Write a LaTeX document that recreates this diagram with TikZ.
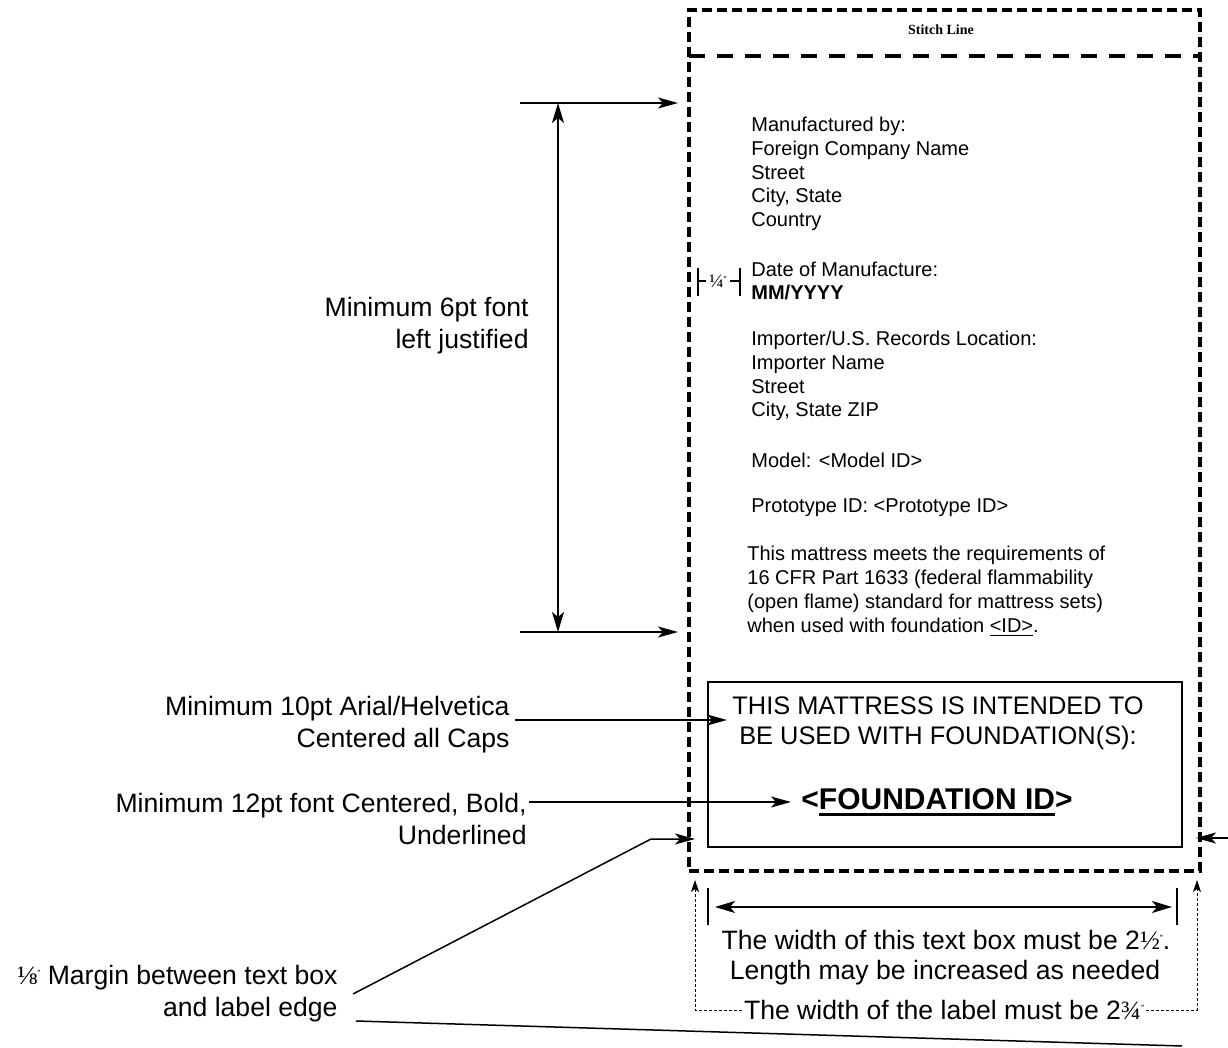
\documentclass[tikz,border=0pt]{standalone}
\usepackage{fontspec}
\setmainfont{Liberation Sans}
\newfontfamily\serifface{Liberation Serif}
\usetikzlibrary{arrows.meta}
\newcommand\inch{\raisebox{.6ex}{\fontsize{4.5}{4.5}\selectfont''}}
\newcommand\frc[1]{{\serifface #1}}
\newcommand\ulbar[3]{\setbox0\hbox{#3}\rlap{\rule[-#1]{\wd0}{#2}}\box0}

\begin{document}
\begin{tikzpicture}[x=0.5pt,y=-0.5pt,
  ann/.style={font=\fontsize{13.3}{16}\selectfont,align=right,inner sep=0pt},
  body/.style={font=\fontsize{10}{11.9}\selectfont,align=left,inner sep=0pt,anchor=west},
  caps/.style={font=\fontsize{12.7}{15}\selectfont,align=center,inner sep=0pt},
  arr/.style={line width=.75pt,-{Stealth[length=10pt,width=5.5pt,inset=2.5pt]}},
  dimarr/.style={line width=.75pt,{Stealth[length=10pt,width=6pt,inset=2.5pt]}-{Stealth[length=10pt,width=6pt,inset=2.5pt]}},
  dotarr/.style={line width=.5pt,dash pattern=on 1.5pt off 1pt,-{Stealth[length=6pt,width=4pt,inset=1.5pt]}},
  stitch/.style={draw,line width=1.8pt,dash pattern=on 5pt off 2.5pt,outer sep=0pt,inner sep=0pt},
  seam/.style={line width=2.2pt,dash pattern=on 8pt off 6pt},
  tick/.style={line width=.6pt}]
\useasboundingbox (0,0) rectangle (1228,1048);

% the label and its stitch line
\node[stitch,minimum width=255.5pt,minimum height=430.5pt] (label) at (944.5,440.5) {};
\draw[seam] (label.west |- 0,56) -- (label.east |- 0,56);
\node[font=\serifface\bfseries\fontsize{7}{8}\selectfont] (stitchtxt) at (941,30) {Stitch Line};

\node[body] (mfr) at (751,174) {Manufactured by:\\Foreign Company Name\\Street\\City, State\\Country};
\node[body] (made) at (751,281) {Date of Manufacture:\\\textbf{MM/YYYY}};
\node[body] (importer) at (751,376) {Importer/U.S. Records Location:\\Importer Name\\Street\\City, State ZIP};
\node[body] (model) at (751,460) {Model: <Model ID>};
\node[body] (proto) at (751,508) {Prototype ID: <Prototype ID>};
\node[body] (claim) at (747,591) {This mattress meets the requirements of\\16 CFR Part 1633 (federal flammability\\(open flame) standard for mattress sets)\\when used with foundation \ulbar{1.6pt}{.5pt}{<ID>}.};

\node[font=\serifface\fontsize{9.5}{10}\selectfont,inner sep=0pt] (qtr) at (718,281) {¼\inch};
\draw[tick] (698,268) -- (698,296) (698,281) -- ([xshift=-1.5pt]qtr.west);
\draw[tick] (740,268) -- (740,296) (740,281) -- ([xshift=1.5pt]qtr.east);

% foundation box
\node[draw,line width=1pt,minimum width=237pt,minimum height=82.5pt,outer sep=0pt] (box) at (945,764.5) {};
\node[caps] (intend) at (938,723) {THIS MATTRESS IS INTENDED TO\\BE USED WITH FOUNDATION(S):};
\node[font=\bfseries\fontsize{15}{18}\selectfont,inner sep=0pt] (fid) at (937,802)
  {<\ulbar{3.2pt}{1.5pt}{FOUNDATION ID}>};

% notes on the left
\coordinate (t1) at (520,103);
\coordinate (t2) at (520,632);
\draw[arr] (t1) -- ([xshift=-5.5pt]label.west |- t1);
\draw[arr] (t2) -- ([xshift=-5.5pt]label.west |- t2);
\draw[dimarr] ([xshift=19pt]t1) -- ([xshift=19pt]t2);
\node[ann,anchor=east] (six) at (529,326) {Minimum 6pt font\\left justified};

\node[ann,anchor=east] (ten) at (510,725) {Minimum 10pt Arial/Helvetica\\Centered all Caps};
\coordinate (tenY) at (0,720);
\draw[arr] ([xshift=2.5pt]ten.east |- tenY) -- ([xshift=-2.5pt]intend.west |- tenY);

\node[ann,anchor=east] (twelve) at (527,819) {Minimum 12pt font Centered, Bold,\\Underlined};
\draw[arr] ([xshift=1pt]twelve.east |- fid.west) -- ([xshift=-5pt]fid.west);

\node[ann,anchor=east] (eighth) at (338,994) {\frc{⅛}\inch{} Margin between text box\\and label edge};
\coordinate (bend) at (651,839);
\coordinate (edgeR) at (1228,838);
\coordinate (farR) at (1182,1046);
\draw[arr] ([xshift=7.5pt]eighth.east) -- (bend) -- ([xshift=3pt]label.west |- bend);
\draw[arr] (edgeR) -- ([xshift=-2pt]label.east |- edgeR);
\draw[line width=.75pt] ([shift={(18,27)}]eighth.east) -- (farR);

% widths under the label
\coordinate (dimL) at (715,907);
\coordinate (dimR) at (1172,907);
\draw[tick] (708,888) -- (708,925) (1177,888) -- (1177,925);
\draw[dimarr] (dimL) -- (dimR);
\node[ann,align=center] (w1) at (946,940) {The width of this text box must be 2\frc{½}\inch.};
\node[ann,align=center] (w2) at (945,973) {Length may be increased as needed};
\node[ann,align=center] (w3) at (944,1010) {The width of the label must be 2\frc{¾}\inch};
\draw[dotarr] ([xshift=-1pt]w3.west) -| ([shift={(6,9)}]label.south west);
\draw[dotarr] ([xshift=1pt]w3.east) -| ([shift={(-3,9)}]label.south east);
\end{tikzpicture}
\end{document}
